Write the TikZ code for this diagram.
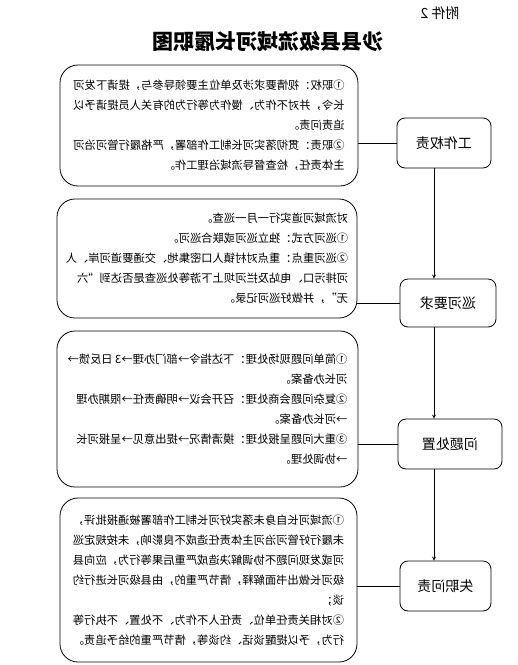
\documentclass[tikz,border=0pt]{standalone}
\usepackage{fontspec}
\setmainfont{Noto Sans CJK SC}
\usepackage{tikz}

\tikzset{
  dutybox/.style={draw, rounded corners=8pt, minimum width=#1, minimum height=50pt,
    font=\fontsize{14}{16}\selectfont},
  textbox/.style={draw, rounded corners=18pt, align=left, inner sep=0pt,
    font=\fontsize{11.3}{20}\selectfont}
}

\begin{document}
\begin{tikzpicture}[x=1pt, y=-1pt, xscale=-1, transform shape, line width=.8pt, >=stealth]
             \useasboundingbox (0,0) rectangle (518,665);

             \node[draw=none, font=\fontsize{14}{16}\selectfont] (fujian) at (78,13) {附件 2};
             \node[draw=none, font=\fontsize{21}{24}\selectfont\bfseries] (title) at (250,42) {沙县县级流域河长履职图};

             \node[dutybox=94pt] (gzqz) at (74,143) {工作权责};
             \node[dutybox=96pt, minimum height=48pt] (xhyq) at (70,303) {巡河要求};
             \node[dutybox=104pt] (wtcz) at (68,444) {问题处置};
             \node[dutybox=91pt] (szwz) at (72.5,586) {失职问责};

             \node[textbox, minimum width=298pt, minimum height=121pt] (gzqzText) at (309,125.5) {%
               ①职权：视情要求涉及单位主要领导参与，提请下发河\\
               长令，并对不作为、慢作为等行为的有关人员提请予以\\
               追责问责。\\
               ②职责：贯彻落实河长制工作部署，严格履行管河治河\\
               主体责任，检查督导流域治理工作。};
             \node[textbox, minimum width=300pt, minimum height=119pt] (xhyqText) at (311,258.5) {%
               对流域河道实行一月一巡查。\\
               ①巡河方式：独立巡河或联合巡河。\\
               ②巡河重点：重点对村镇人口密集地、交通要道河岸、人\\
               河排污口、电站及拦河坝上下游等处巡查是否达到“六\\
               无”，并做好巡河记录。};
             \node[textbox, minimum width=301pt, minimum height=156pt] (wtczText) at (310.5,409) {%
               ①简单问题现场处理：下达指令→部门办理→3 日反馈→\\
               河长办备案。\\
               ②复杂问题会商处理：召开会议→明确责任→限期办理\\
               →河长办备案。\\
               ③重大问题呈报处理：摸清情况→提出意见→呈报河长\\
               →协调处理。};
             \node[textbox, minimum width=297pt, minimum height=164pt] (szwzText) at (309.5,580) {%
               ①流域河长自身未落实好河长制工作部署被通报批评，\\
               未履行好管河治河主体责任造成不良影响，未按规定巡\\
               河或发现问题不协调解决造成严重后果等行为，应向县\\
               级河长做出书面解释，情节严重的，由县级河长进行约\\
               谈；\\
               ②对相关责任单位、责任人不作为、不处置、不执行等\\
               行为，予以提醒谈话、约谈等，情节严重的给予追责。};

             \coordinate (axis) at (84,0);
             \draw[->] (gzqz.south -| axis) -- (xhyq.north -| axis);
             \draw[->] (xhyq.south -| axis) -- (wtcz.north -| axis);
             \draw[->] (wtcz.south -| axis) -- (szwz.north -| axis);

             \draw (gzqz.east) -- (gzqz.east -| gzqzText.west);
             \draw (xhyq.east) -- (xhyq.east -| xhyqText.west);
             \draw (wtcz.east) -- (wtcz.east -| wtczText.west);
             \draw (szwz.east) -- (szwz.east -| szwzText.west);
             \end{tikzpicture}
\end{document}
